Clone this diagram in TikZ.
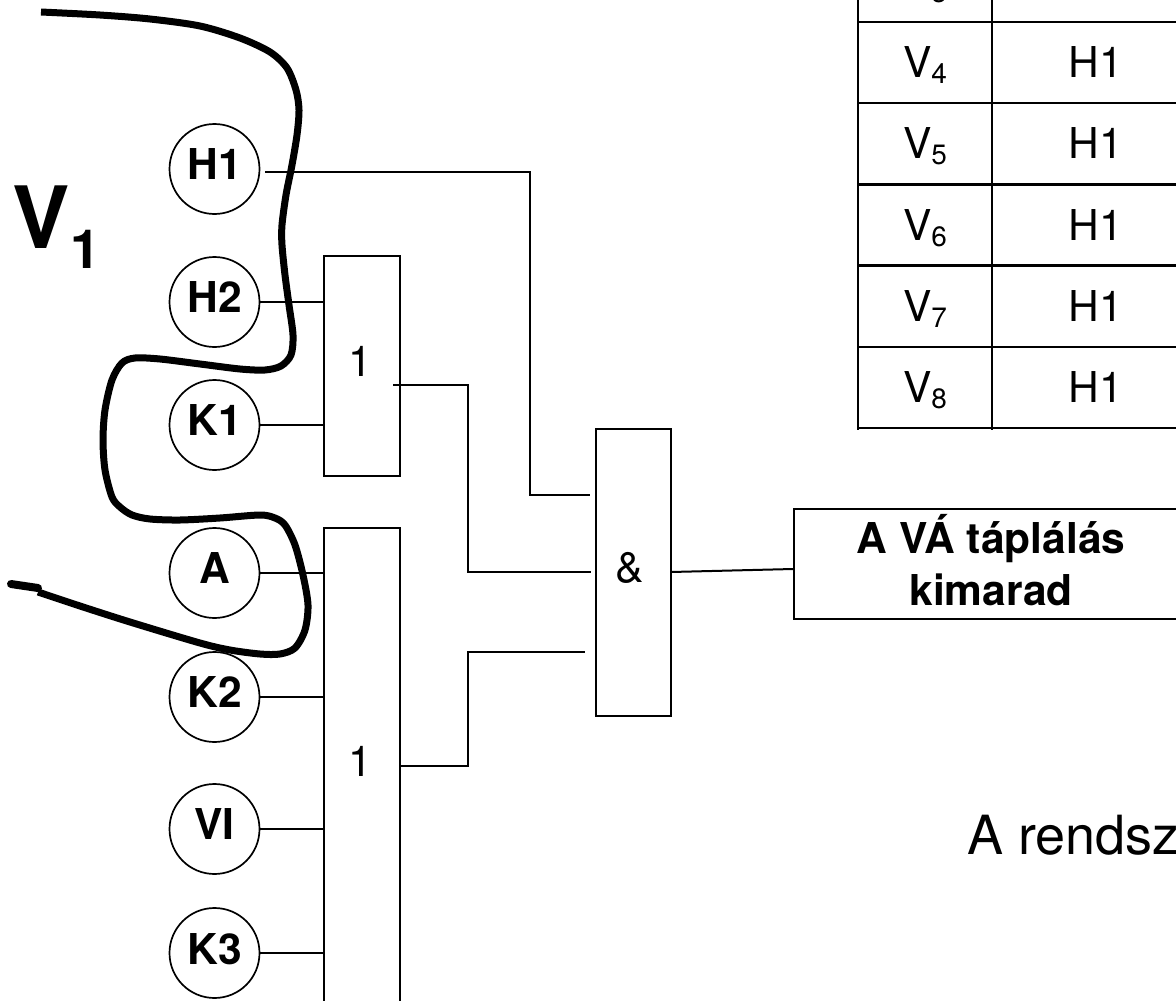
\documentclass[tikz,border=0pt]{standalone}
\usepackage{fontspec}
\setmainfont{TeX Gyre Heros}
\newcommand{\vrow}[1]{V\raisebox{-6pt}{\fontsize{28}{28}\selectfont #1}}
\tikzset{
  wire/.style={line width=2pt,black,line join=miter},
  sensor/.style={circle,draw,line width=1.7pt,minimum size=90pt,inner sep=0pt,font=\fontsize{42.5}{42.5}\selectfont\bfseries,text depth=9pt},
  gate/.style={rectangle,draw,line width=2.1pt,anchor=north west,inner sep=0pt},
  gatelabel/.style={anchor=base,inner sep=0pt,font=\fontsize{42.5}{42.5}\selectfont},
  cell/.style={anchor=base,inner sep=0pt,font=\fontsize{42.5}{42.5}\selectfont},
  grid line/.style={line width=2.1pt,black},
  boldlabel/.style={anchor=base,inner sep=0pt,font=\fontsize{42.5}{42.5}\selectfont\bfseries},
}
\begin{document}
\begin{tikzpicture}[x=1pt,y=-1pt]
\useasboundingbox (0,0) rectangle (1176,1001);
\clip (0,0) rectangle (1176,1001);
\fill[white] (0,0) rectangle (1176,1001);
% table
\foreach \yy in {22,103,184.5,265.5,347,428} \draw[grid line] (858,\yy) -- (1180,\yy);
\draw[grid line] (858,-5) -- (858,430);
\draw[grid line] (992,-5) -- (992,430);
\node[cell] (v3) at (925,-4) {\vrow{3}};
\node[cell] (v4) at (925,77) {\vrow{4}};
\node[cell] (v5) at (925,158.5) {\vrow{5}};
\node[cell] (v6) at (925,240) {\vrow{6}};
\node[cell] (v7) at (925,321) {\vrow{7}};
\node[cell] (v8) at (925,402) {\vrow{8}};
\node[cell] (t4) at (1095.5,77) {H1};
\node[cell] (t5) at (1095.5,158.5) {H1};
\node[cell] (t6) at (1095.5,240) {H1};
\node[cell] (t7) at (1095.5,321) {H1};
\node[cell] (t8) at (1095.5,402) {H1};
% sensors
\node[sensor] (h1) at (214.5,169) {H1};
\node[sensor] (h2) at (214.5,302) {H2};
\node[sensor] (k1) at (214.5,425) {K1};
\node[sensor] (a)  at (214.5,573) {A};
\node[sensor] (k2) at (214.5,697) {K2};
\node[sensor] (vi) at (214.5,829) {VI};
\node[sensor] (k3) at (214.5,953) {K3};
% gates
\node[gate,minimum width=76pt,minimum height=220pt] (or1) at (323,255) {};
\node[gate,minimum width=76pt,minimum height=600pt] (or2) at (323,527) {};
\node[gate,minimum width=75pt,minimum height=287pt] (and) at (594.5,428) {};
\node[gate,minimum width=420pt,minimum height=110pt] (out) at (793,508) {};
\node[gatelabel] (or1l) at (360,376) {1};
\node[gatelabel] (or2l) at (360,776) {1};
\node[gatelabel] (andl) at (630,582) {\&};
\node[boldlabel] (o1) at (991,553) {A VÁ táplálás};
\node[boldlabel] (o2) at (991,605) {kimarad};
% wires
\coordinate (h1out) at (265,172);
\coordinate (h1bend) at (530,172);
\coordinate (andA) at (590,495);
\coordinate (or1out) at (393,385);
\coordinate (andB) at (591,572);
\coordinate (or2out) at (399,766);
\coordinate (andC) at (585,652);
\coordinate (andout) at (671,572);
\coordinate (outin) at (793,569);
\draw[wire] (h1out) -- (h1bend) |- (andA);
\draw[wire] (h2.east) -- (h2.east -| or1.west);
\draw[wire] (k1.east) -- (k1.east -| or1.west);
\draw[wire] (a.east) -- (a.east -| or2.west);
\draw[wire] (k2.east) -- (k2.east -| or2.west);
\draw[wire] (vi.east) -- (vi.east -| or2.west);
\draw[wire] (k3.east) -- (k3.east -| or2.west);
\draw[wire] (or1out) -- (468,385) |- (andB);
\draw[wire] (or2out) -- (468,766) |- (andC);
\draw[wire] (andout) -- (outin);
% thick loop
\draw[line width=7pt,line join=round] plot[smooth,tension=0.5] coordinates {
 (41,12) (100,15) (150,19) (200,26) (240,38) (270,52) (287,68) (296,90) (299,110) (297,135) (292,165) (286,195) (282,225) (282,245) (285,275) (289,305) (293,335) (291,355) (281,366) (265,370) (240,369) (200,364) (160,359) (135,358) (122,363) (112,380) (105,410) (103,440) (105,470) (112,497) (120,507) (132,515) (150,519) (180,520) (220,518) (260,515) (275,518) (285,525) (295,545) (303,575) (308,605) (305,630) (295,648) (280,654) (260,654) (230,650) (200,643) (130,622) (80,606) (38,592)};
\draw[line width=8pt,line cap=round] (11,584) -- (38,588);
% V1 and caption
\node[anchor=base west,inner sep=0pt,font=\fontsize{86}{86}\selectfont\bfseries] (vv) at (12.6,248) {V};
\node[anchor=base west,inner sep=0pt,font=\fontsize{54}{54}\selectfont\bfseries] (vs) at (70,268) {1};
\node[anchor=base west,inner sep=0pt,font=\fontsize{54}{54}\selectfont] (cap) at (967,854) {A rendsz};
\end{tikzpicture}
\end{document}
